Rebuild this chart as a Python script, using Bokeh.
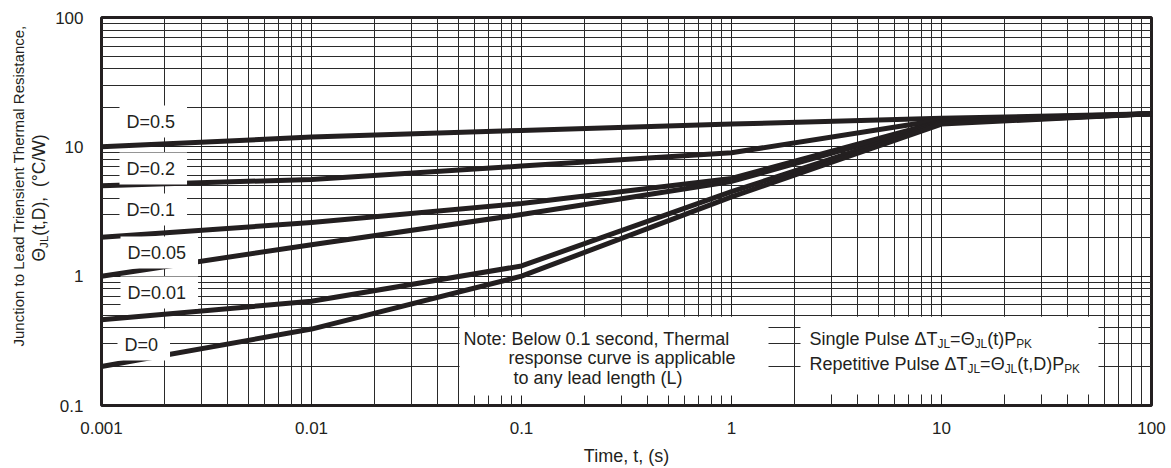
import math
from bokeh.plotting import figure
from bokeh.layouts import row
from bokeh.models import Range1d, FixedTicker, Label, BoxAnnotation, CustomJSTickFormatter
from bokeh.embed import file_html
from bokeh.resources import INLINE

# ---------------- data ----------------
time_s = [0.001, 0.01, 0.1, 1, 10, 100]
theta_d05 = [10.0, 11.9, 13.4, 15.0, 16.6, 18.0]
theta_d02 = [5.0, 5.6, 7.1, 9.0, 16.2, 18.0]
theta_d01 = [2.0, 2.6, 3.65, 5.7, 15.7, 18.0]
theta_d005 = [1.0, 1.75, 3.0, 5.4, 15.5, 18.0]
theta_d001 = [0.46, 0.64, 1.2, 4.5, 15.3, 18.0]
theta_d0 = [0.2, 0.39, 1.0, 4.1, 15.0, 18.0]
duty_labels = ["D=0.5", "D=0.2", "D=0.1", "D=0.05", "D=0.01", "D=0"]

x_ticks = [0.001, 0.01, 0.1, 1, 10, 100]
x_tick_labels = ["0.001", "0.01", "0.1", "1", "10", "100"]
y_ticks = [0.1, 1, 10, 100]
y_tick_labels = ["0.1", "1", "10", "100"]

x_title = "Time, t, (s)"
y_title_1 = "Junction to Lead Triensient Thermal Resistance,"
note_lines = ["Note: Below 0.1 second, Thermal",
              "response curve is applicable",
              "to any lead length (L)"]

INK = "#231f20"
FONT = "Liberation Sans"

x_minor = [k * 10.0 ** e for e in range(-3, 2) for k in range(2, 10)]
y_minor = [k * 10.0 ** e for e in range(-1, 2) for k in range(2, 10)]

# ---------------- page geometry (page pixels) ----------------
PW, PH = 1171, 468
LW = 50                    # width of the strip holding the y title
FL, FT, FR, FB = 101, 17, 1151, 406   # plot frame

# ---------------- y-title strip ----------------
yl = figure(width=LW, height=PH, x_range=Range1d(0, LW), y_range=Range1d(0, PH),
            output_backend="svg", toolbar_location=None,
            x_axis_location=None, y_axis_location=None,
            min_border_left=0, min_border_right=0, min_border_top=0, min_border_bottom=0)
yl.outline_line_color = None
yl.background_fill_color = "white"
yl.border_fill_color = "white"
yl.grid.visible = False

# ---------------- main figure ----------------
p = figure(width=PW - LW, height=PH, x_axis_type="log", y_axis_type="log",
           x_range=Range1d(0.001, 100), y_range=Range1d(0.1, 100),
           output_backend="svg", toolbar_location=None,
           min_border_left=FL - LW, min_border_right=PW - FR,
           min_border_top=FT, min_border_bottom=PH - FB)
p.background_fill_color = "white"
p.border_fill_color = "white"
p.outline_line_color = INK
p.outline_line_width = 3

xt = FixedTicker(ticks=x_ticks, minor_ticks=x_minor)
yt = FixedTicker(ticks=y_ticks, minor_ticks=y_minor)
p.xaxis.ticker = xt
p.yaxis.ticker = yt
p.xgrid.ticker = xt
p.ygrid.ticker = yt
fmt = "return tick >= 1 ? tick.toFixed(0) : String(tick);"
p.xaxis.formatter = CustomJSTickFormatter(code=fmt)
p.yaxis.formatter = CustomJSTickFormatter(code=fmt)
p.xaxis.major_label_overrides = {v: s for v, s in zip(x_ticks, x_tick_labels)}
p.yaxis.major_label_overrides = {v: s for v, s in zip(y_ticks, y_tick_labels)}

for ax in (p.xaxis, p.yaxis):
    ax.axis_line_color = None
    ax.major_tick_line_color = None
    ax.minor_tick_line_color = None
    ax.major_label_text_font = FONT
    ax.major_label_text_font_size = "17px"
    ax.major_label_text_color = INK
p.xaxis.major_label_standoff = 10
p.yaxis.major_label_standoff = 12
p.xaxis.axis_label = x_title
p.xaxis.axis_label_text_font = FONT
p.xaxis.axis_label_text_font_size = "18px"
p.xaxis.axis_label_text_font_style = "normal"
p.xaxis.axis_label_text_color = INK
p.xaxis.axis_label_standoff = 9

for g in (p.xgrid, p.ygrid):
    g.grid_line_color = "#1e1e1e"
    g.grid_line_width = 1
    g.minor_grid_line_color = "#2a2a2a"
    g.minor_grid_line_width = 1


# ---------------- helpers ----------------
def sx(ix):
    return ix - FL


def sy(iy):
    return FB - iy


def px2x(ix):
    return 10 ** (-3 + (ix - FL) / ((FR - FL) / 5.0))


def py2y(iy):
    return 10 ** (2 - (iy - FT) / ((FB - FT) / 3.0))


AW = {' ': 278, '\u00a0': 278, '!': 278, '(': 333, ')': 333, ',': 278, '.': 278,
      '/': 278, ':': 278, '=': 584, '°': 400, 'Δ': 668, 'Θ': 778,
      'A': 667, 'B': 667, 'C': 722, 'D': 722, 'E': 667, 'F': 611, 'G': 778,
      'H': 722, 'I': 278, 'J': 500, 'K': 667, 'L': 556, 'M': 833, 'N': 722,
      'O': 778, 'P': 667, 'Q': 778, 'R': 722, 'S': 667, 'T': 611, 'U': 722,
      'V': 667, 'W': 944, 'X': 667, 'Y': 667, 'Z': 611,
      'a': 556, 'b': 556, 'c': 500, 'd': 556, 'e': 556, 'f': 278, 'g': 556,
      'h': 556, 'i': 222, 'j': 222, 'k': 500, 'l': 222, 'm': 833, 'n': 556,
      'o': 556, 'p': 556, 'q': 556, 'r': 333, 's': 500, 't': 278, 'u': 556,
      'v': 500, 'w': 722, 'x': 500, 'y': 500, 'z': 500}


def tw(s, size):
    return sum(AW.get(c, 556) for c in s) * size / 1000.0


def main_label(txt, ix, iy, size, ang=0.0, **kw):
    p.add_layout(Label(x=sx(ix), y=sy(iy), x_units="screen", y_units="screen",
                       text=txt, angle=ang, text_font=FONT,
                       text_font_size=f"{size:.1f}px", text_color=INK,
                       text_align=kw.pop("text_align", "left"),
                       text_baseline="middle", **kw))


def strip_label(txt, ix, iy, size, ang=0.0, align="left"):
    # the strip's frame is aligned by the row layout with the main frame (FT..FB)
    yl.add_layout(Label(x=ix, y=FB - iy, x_units="screen", y_units="screen",
                        text=txt, angle=ang, text_font=FONT,
                        text_font_size=f"{size:.1f}px", text_color=INK,
                        text_align=align, text_baseline="middle"))


def rich(parts, ix, iy, size, vertical=False):
    pos = 0.0
    for txt, sub in parts:
        fs = size * 0.66 if sub else size
        off = size * 0.3 if sub else 0.0
        if vertical:
            strip_label(txt, ix + off, iy - pos, fs, ang=math.pi / 2)
        else:
            main_label(txt, ix + pos, iy + off, fs)
        pos += tw(txt, fs)


# ---------------- white boxes (note / legend) ----------------
for l, r, t, b in [(459, 768, 317, 396), (800, 1098, 317, 395)]:
    p.add_layout(BoxAnnotation(left=px2x(l), right=px2x(r), top=py2y(t), bottom=py2y(b),
                               fill_color="white", fill_alpha=1.0, line_color=None))

# ---------------- curves ----------------
for ys in (theta_d05, theta_d02, theta_d01, theta_d005, theta_d001, theta_d0):
    p.line(time_s, ys, line_color=INK, line_width=5, line_join="round")

# ---------------- D labels (anchor = box left edge) ----------------
label_pos = [(126, 122), (126, 169), (126, 210), (127, 253), (127, 293), (124, 345)]
for txt, (ix, iy) in zip(duty_labels, label_pos):
    main_label(txt, ix - 7, iy, 18, background_fill_color="white", background_fill_alpha=1.0,
               padding=dict(left=7, right=12, top=6, bottom=6))

# ---------------- note ----------------
for txt, (ix, iy) in zip(note_lines, [(463, 339), (508, 358), (513, 378)]):
    main_label(txt, ix, iy, 18)

# ---------------- legend formulas ----------------
rich([("Single Pulse ΔT", False), ("JL", True), ("=Θ", False), ("JL", True),
      ("(t)P", False), ("PK", True)], 809, 339, 18)
rich([("Repetitive Pulse ΔT", False), ("JL", True), ("=Θ", False), ("JL", True),
      ("(t,D)P", False), ("PK", True)], 809, 364, 18)

# ---------------- y axis title ----------------
strip_label(y_title_1, 18, 347, 15.0, ang=math.pi / 2, align="left")
rich([("Θ", False), ("JL", True), ("(t,D),\u00a0 (°C/W)", False)], 38, 262, 17.5, vertical=True)

layout = row(yl, p, spacing=0)
open("out.html", "w").write(file_html(layout, INLINE))
